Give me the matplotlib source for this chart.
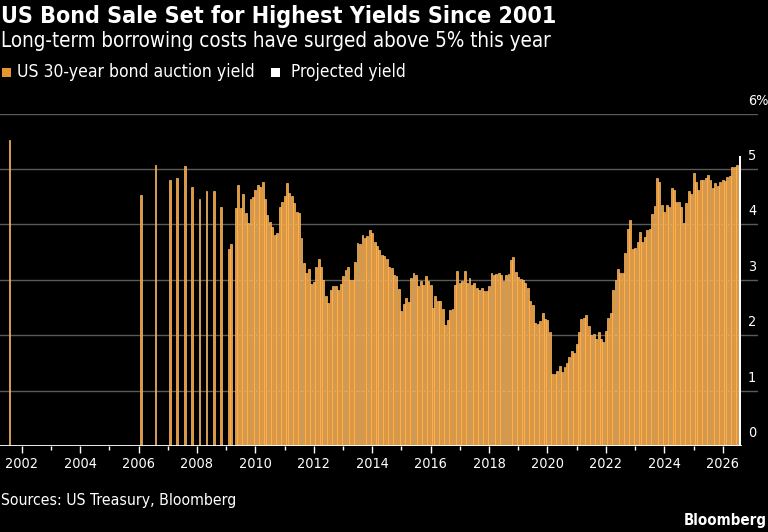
import os
from datetime import datetime

import matplotlib
matplotlib.use("Agg")
import matplotlib.pyplot as plt
import matplotlib.dates as mdates
import matplotlib.font_manager as font_manager
import matplotlib.transforms as mtransforms
from matplotlib.patches import Rectangle
import pandas as pd

# --- data --------------------------------------------------------------
# sparse auctions before monthly issuance resumed
early_months = ["2001-08", "2006-02", "2006-08", "2007-02", "2007-05", "2007-08",
                "2007-11", "2008-02", "2008-05", "2008-08", "2008-11"]
early_yields = [5.52, 4.53, 5.08, 4.81, 4.84, 5.06, 4.67, 4.45, 4.60, 4.61, 4.31]

# monthly auctions from Feb 2009 (None = no sale that month)
monthly_start = "2009-02"
monthly_yields = [
    3.56, 3.64, None, 4.29, 4.72, 4.30, 4.55, 4.20, 4.03, 4.46, 4.49,        # 2009
    4.62, 4.71, 4.68, 4.77, 4.45, 4.17, 4.05, 3.95, 3.81, 3.84, 4.32, 4.41,  # 2010
    4.52, 4.75, 4.57, 4.52, 4.38, 4.23, 4.20, 3.75, 3.30, 3.12, 3.19, 2.93,  # 2011
    2.96, 3.24, 3.37, 3.24, 3.00, 2.71, 2.59, 2.81, 2.89, 2.89, 2.81, 2.92,  # 2012
    3.06, 3.18, 3.24, 3.00, 3.00, 3.33, 3.66, 3.65, 3.81, 3.75, 3.79, 3.89,  # 2013
    3.85, 3.69, 3.61, 3.53, 3.45, 3.43, 3.37, 3.24, 3.21, 3.09, 3.06, 2.84,  # 2014
    2.43, 2.56, 2.68, 2.60, 3.03, 3.13, 3.09, 2.88, 2.98, 2.91, 3.06, 2.98,  # 2015
    2.91, 2.50, 2.71, 2.61, 2.62, 2.47, 2.19, 2.27, 2.45, 2.47, 2.91, 3.15,  # 2016
    2.94, 2.98, 3.16, 2.94, 3.04, 2.91, 2.94, 2.85, 2.82, 2.86, 2.80, 2.80,  # 2017
    2.88, 3.12, 3.09, 3.10, 3.13, 3.09, 2.97, 3.09, 3.10, 3.36, 3.42, 3.14,  # 2018
    3.05, 3.02, 3.00, 2.95, 2.86, 2.62, 2.55, 2.22, 2.20, 2.25, 2.40, 2.30,  # 2019
    2.28, 2.05, 1.30, 1.30, 1.35, 1.45, 1.33, 1.42, 1.50, 1.60, 1.72, 1.67,  # 2020
    1.85, 2.05, 2.29, 2.31, 2.37, 2.17, 2.00, 2.02, 1.93, 2.06, 1.94, 1.88,  # 2021
    2.07, 2.31, 2.40, 2.82, 2.99, 3.19, 3.13, 3.12, 3.48, 3.91, 4.08, 3.55,  # 2022
    3.58, 3.69, 3.87, 3.68, 3.77, 3.90, 3.91, 4.19, 4.34, 4.83, 4.77, 4.35,  # 2023
    4.23, 4.35, 4.32, 4.66, 4.62, 4.41, 4.40, 4.32, 4.02, 4.39, 4.60, 4.54,  # 2024
    4.92, 4.76, 4.62, 4.81, 4.81, 4.83, 4.89, 4.81, 4.65, 4.74, 4.69, 4.77,  # 2025
    4.81, 4.79, 4.86, 4.87, 5.04, 5.03, 5.07,                                # 2026
]
projected_month = "2026-08"
projected_yield = 5.23

major_years = list(range(2002, 2027, 2))
minor_years = list(range(2003, 2026, 2))
y_ticks = [0, 1, 2, 3, 4, 5, 6]
y_labels = ["0", "1", "2", "3", "4", "5", "6%"]

title = "US Bond Sale Set for Highest Yields Since 2001"
subtitle = "Long-term borrowing costs have surged above 5% this year"
legend_labels = ["US 30-year bond auction yield", "Projected yield"]
source = "Sources: US Treasury, Bloomberg"

ORANGE = "#E8952F"
ORANGE_EDGE = "#F6BE72"
GRID = "#5a5a5a"


def find_font(candidates, fallback):
    # pick the first installed font file from the list
    for name in candidates:
        for f in font_manager.fontManager.ttflist:
            if os.path.basename(f.fname) == name:
                return font_manager.FontProperties(fname=f.fname)
    return fallback


regular = find_font(["LiberationSansNarrow-Regular.ttf", "DejaVuSansCondensed.ttf",
                     "LiberationSans-Regular.ttf"],
                    font_manager.FontProperties(family="DejaVu Sans"))
bold = find_font(["LiberationSansNarrow-Bold.ttf", "DejaVuSansCondensed-Bold.ttf",
                  "LiberationSans-Bold.ttf"],
                 font_manager.FontProperties(family="DejaVu Sans", weight="bold"))

W, H = 768, 532
fig = plt.figure(figsize=(W / 100, H / 100), dpi=100, facecolor="black")
renderer = fig.canvas.get_renderer()

# axes: left edge at 0px, right at 758px, 6% line at 113.6px, baseline at 446px
ax = fig.add_axes([0, 1 - 446 / H, 758 / W, (446 - 113.6) / H])
ax.set_facecolor("black")
for s in ax.spines.values():
    s.set_visible(False)

px_per_day = 29.21 / 365.25
jan2002 = mdates.date2num(datetime(2002, 1, 1))
ax.set_xlim(jan2002 - 21.7 / px_per_day, jan2002 + (758 - 21.7) / px_per_day)
ax.set_ylim(0, 6)

# gridlines + baseline
for y in y_ticks[1:]:
    ax.axhline(y, color=GRID, lw=1.0, zorder=1)
ax.axhline(0, xmin=0, xmax=741 / 758, color="white", lw=1.3, zorder=4)

# bars
early_x = [mdates.date2num(pd.Timestamp(m)) for m in early_months]
ax.bar(early_x, early_yields, width=22, color=ORANGE, edgecolor=ORANGE_EDGE,
       linewidth=0.5, zorder=2)

month_dates = pd.date_range(monthly_start, periods=len(monthly_yields), freq="MS")
mx = [mdates.date2num(d) for d, v in zip(month_dates, monthly_yields) if v is not None]
my = [v for v in monthly_yields if v is not None]
ax.bar(mx, my, width=24, color=ORANGE, edgecolor=ORANGE_EDGE, linewidth=0.5, zorder=2)

ax.bar([mdates.date2num(pd.Timestamp(projected_month))], [projected_yield], width=22,
       color="white", linewidth=0, zorder=3)


def fit(text, width_px):
    w = text.get_window_extent(renderer).width
    text.set_fontsize(text.get_fontsize() * width_px / w)


# x ticks
probe = fig.text(0, 0, "2020", fontproperties=regular, fontsize=10)
fit(probe, 33)
tick_size = probe.get_fontsize()
probe.remove()

ax.set_xticks([mdates.date2num(datetime(y, 1, 1)) for y in major_years])
ax.set_xticklabels([str(y) for y in major_years], fontproperties=regular,
                   fontsize=tick_size, color="white")
ax.set_xticks([mdates.date2num(datetime(y, 1, 1)) for y in minor_years], minor=True)
ax.tick_params(axis="x", which="major", length=5, width=1, color="white", pad=3)
ax.tick_params(axis="x", which="minor", length=3, width=1, color="white")
ax.tick_params(axis="y", left=False, labelleft=False)

# y labels sit above their gridlines at the right edge
ytrans = mtransforms.blended_transform_factory(fig.transFigure, ax.transData)
for y, lab in zip(y_ticks, y_labels):
    ax.text(748 / W, y + 13 / 55.4, lab, transform=ytrans, ha="left", va="center",
            color="white", fontproperties=regular, fontsize=tick_size, clip_on=False)


def fy(ypx):
    return 1 - ypx / H


t = fig.text(1 / W, fy(17), title, fontproperties=bold, fontsize=14, color="white",
             ha="left", va="center")
fit(t, 558)
t = fig.text(1 / W, fy(41), subtitle, fontproperties=regular, fontsize=12, color="white",
             ha="left", va="center")
fit(t, 554)

# legend
fig.patches.append(Rectangle((1.5 / W, fy(76.5)), 9 / W, 9 / H, transform=fig.transFigure,
                             facecolor=ORANGE, edgecolor="none"))
t = fig.text(17 / W, fy(72), legend_labels[0], fontproperties=regular, fontsize=10,
             color="white", ha="left", va="center")
fit(t, 238)
fig.patches.append(Rectangle((271 / W, fy(76.5)), 9 / W, 9 / H, transform=fig.transFigure,
                             facecolor="white", edgecolor="none"))
t = fig.text(291 / W, fy(72), legend_labels[1], fontproperties=regular, fontsize=10,
             color="white", ha="left", va="center")
fit(t, 115)

# footer
t = fig.text(1 / W, fy(501), source, fontproperties=regular, fontsize=10, color="white",
             ha="left", va="center")
fit(t, 236)
t = fig.text(767 / W, fy(520), "Bloomberg", fontproperties=bold, fontsize=10,
             color="white", ha="right", va="center")
fit(t, 82)

fig.savefig("out.png", dpi=100, facecolor="black")
